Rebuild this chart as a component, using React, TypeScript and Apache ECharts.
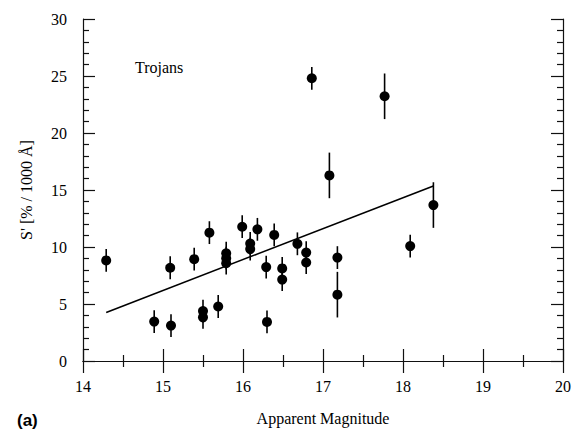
import React, { useEffect, useRef } from "react";
import * as echarts from "echarts";

const magnitudes = [14.29, 14.89, 15.10, 15.09, 15.39, 15.50, 15.50, 15.58, 15.69, 15.79, 15.79, 15.79, 15.99, 16.09, 16.09, 16.18, 16.29, 16.30, 16.39, 16.49, 16.49, 16.68, 16.79, 16.79, 16.86, 17.08, 17.18, 17.18, 17.77, 18.09, 18.38];
const slopes = [8.82, 3.46, 3.11, 8.18, 8.93, 4.38, 3.83, 11.26, 4.78, 9.45, 9.02, 8.58, 11.78, 10.31, 9.82, 11.55, 8.24, 3.43, 11.06, 8.12, 7.14, 10.28, 9.51, 8.64, 24.8, 16.28, 9.07, 5.82, 23.22, 10.08, 13.68];
const errors = [1, 1, 1, 1, 1, 1, 1, 1, 1, 1, 1, 1, 1, 1, 1, 1, 1, 1, 1, 1, 1, 1, 1, 1, 1, 2, 1, 2, 2, 1, 2];
const fitX = [14.29, 18.38];
const fitY = [4.26, 15.36];

const FONT = "Liberation Serif";

export default function App() {
  const ref = useRef<HTMLDivElement>(null);
  useEffect(() => {
    document.body.style.margin = "0";
    const chart = echarts.init(ref.current!, null, { renderer: "svg" });
    const points = magnitudes.map((m, i) => [m, slopes[i]]);
    const bars = magnitudes.map((m, i) => [m, slopes[i] - errors[i], slopes[i] + errors[i]]);
    const fit = fitX.map((x, i) => [x, fitY[i]]);
    const axisCommon = {
      axisLine: { show: true, lineStyle: { color: "#111", width: 1.2 } },
      axisTick: { show: true, inside: true, length: 12, lineStyle: { color: "#111", width: 1.2 } },
      splitLine: { show: false },
    };
    chart.setOption({
      animation: false,
      backgroundColor: "#fff",
      grid: { left: 83, right: 11, top: 19, bottom: 65, containLabel: false },
      xAxis: [
        {
          type: "value", min: 14, max: 20, interval: 1, position: "bottom",
          ...axisCommon,
          minorTick: { show: true, splitNumber: 2, length: 6, lineStyle: { color: "#111", width: 1.2 } },
          axisLabel: { margin: 17, fontFamily: FONT, fontSize: 16, color: "#000" },
          name: "Apparent Magnitude", nameLocation: "middle", nameGap: 49,
          nameTextStyle: { fontFamily: FONT, fontSize: 16, color: "#000" },
        },
        {
          type: "value", min: 14, max: 20, interval: 1, position: "top",
          ...axisCommon,
          minorTick: { show: true, splitNumber: 2, length: 6, lineStyle: { color: "#111", width: 1.2 } },
          axisLabel: { show: false },
        },
      ],
      yAxis: [
        {
          type: "value", min: 0, max: 30, interval: 5, position: "left",
          ...axisCommon,
          minorTick: { show: true, splitNumber: 5, length: 6, lineStyle: { color: "#111", width: 1.2 } },
          axisLabel: { margin: 16, fontFamily: FONT, fontSize: 16, color: "#000" },
          name: "S' [% / 1000 Å]", nameLocation: "middle", nameGap: 49,
          nameTextStyle: { fontFamily: FONT, fontSize: 16, color: "#000" },
        },
        {
          type: "value", min: 0, max: 30, interval: 5, position: "right",
          ...axisCommon,
          minorTick: { show: true, splitNumber: 5, length: 6, lineStyle: { color: "#111", width: 1.2 } },
          axisLabel: { show: false },
        },
      ],
      graphic: [
        { type: "text", left: 135, top: 59, style: { text: "Trojans", font: `16px "${FONT}"`, fill: "#000" } },
        { type: "text", left: 17, top: 412, style: { text: "(a)", font: `bold 17px "Liberation Sans"`, fill: "#000" } },
      ],
      series: [
        {
          type: "custom",
          xAxisIndex: 0, yAxisIndex: 0,
          data: bars,
          encode: { x: 0, y: [1, 2] },
          renderItem: (params: any, api: any) => {
            const lo = api.coord([api.value(0), api.value(1)]);
            const hi = api.coord([api.value(0), api.value(2)]);
            return {
              type: "line",
              shape: { x1: lo[0], y1: lo[1], x2: hi[0], y2: hi[1] },
              style: { stroke: "#000", lineWidth: 1.6 },
            };
          },
          z: 2,
        },
        {
          type: "line",
          xAxisIndex: 0, yAxisIndex: 0,
          data: fit,
          showSymbol: false,
          lineStyle: { color: "#000", width: 1.6 },
          z: 3,
        },
        {
          type: "scatter",
          xAxisIndex: 0, yAxisIndex: 0,
          data: points,
          symbol: "circle",
          symbolSize: 10,
          itemStyle: { color: "#000", opacity: 1 },
          z: 4,
        },
      ],
    });
    return () => chart.dispose();
  }, []);
  return <div ref={ref} style={{ width: 574, height: 431 }} />;
}
